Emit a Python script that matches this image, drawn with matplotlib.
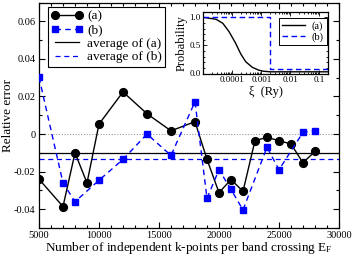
import matplotlib
matplotlib.use("Agg")
import matplotlib.pyplot as plt
from matplotlib.ticker import MultipleLocator, FixedLocator, FuncFormatter, LogLocator, NullFormatter

plt.rcParams['font.family'] = ['Liberation Serif', 'DejaVu Serif']
plt.rcParams['mathtext.fontset'] = 'custom'
plt.rcParams['mathtext.rm'] = 'Liberation Serif'
plt.rcParams['mathtext.it'] = 'Liberation Serif:italic'

# main data
x_a = [5000, 7000, 8000, 9000, 10000, 12000, 14000, 16000, 18000, 19000, 20000,
       21000, 22000, 23000, 24000, 25000, 26000, 27000, 28000]
y_a = [-0.024, -0.0386, -0.010, -0.026, 0.0053, 0.0224, 0.0108, 0.0017, 0.0066,
       -0.0135, -0.0312, -0.0242, -0.0305, -0.0035, -0.0018, -0.0035, -0.0053,
       -0.0153, -0.0092]
x_b = [5000, 7000, 8000, 10000, 12000, 14000, 16000, 18000, 19000, 20000, 21000,
       22000, 24000, 25000, 27000, 28000]
y_b = [0.0302, -0.026, -0.036, -0.0246, -0.0135, 0.0, -0.0114, 0.0172, -0.0342,
       -0.019, -0.0295, -0.0404, -0.007, -0.019, 0.0009, 0.0017]
avg_a = -0.0100
avg_b = -0.0132

# inset data
xi_a = [1e-5, 2.75e-5, 4.7e-5, 7.7e-5, 1.3e-4, 1.95e-4, 2.9e-4, 4.9e-4, 8.1e-4, 1.2e-3, 2.0e-3, 0.2]
p_a = [1.0, 0.965, 0.894, 0.746, 0.54, 0.35, 0.21, 0.11, 0.06, 0.04, 0.03, 0.03]
xi_b = [1e-5, 2.05e-3, 2.05e-3, 0.2]
p_b = [1.0, 1.0, 0.08, 0.08]

W, H = 353, 259
fig = plt.figure(figsize=(W / 100, H / 100), dpi=100)
ax = fig.add_axes([39 / W, (H - 228) / H, 300 / W, 225.5 / H])

blue = '#0000ff'
ax.axhline(0, color='#999999', lw=0.8, ls=(0, (1, 1.5)), zorder=1)
ax.plot(x_a, y_a, color='black', lw=1.0, marker='o', ms=5.6, mfc='black', mec='black',
        label='(a)', zorder=3)
ax.plot(x_b, y_b, color=blue, lw=1.0, ls=(0, (4, 3)), marker='s', ms=4.6, mfc=blue,
        mec=blue, label='(b)', zorder=3)
ax.axhline(avg_a, color='black', lw=0.9, label='average of (a)', zorder=2)
ax.axhline(avg_b, color=blue, lw=0.9, ls=(0, (4, 3)), label='average of (b)', zorder=2)

ax.set_xlim(5000, 30000)
ax.set_ylim(-0.05, 0.07)
ax.xaxis.set_major_locator(MultipleLocator(5000))
ax.xaxis.set_minor_locator(MultipleLocator(1000))
ax.yaxis.set_major_locator(FixedLocator([-0.04, -0.02, 0, 0.02, 0.04, 0.06]))
ax.yaxis.set_minor_locator(MultipleLocator(0.01))
ax.yaxis.set_major_formatter(FuncFormatter(lambda v, p: '0' if abs(v) < 1e-9 else f'{v:.2f}'))
ax.tick_params(which='both', direction='in', top=True, right=True, labelsize=7.5, width=0.8, pad=2.5)
ax.tick_params(which='major', length=4)
ax.tick_params(which='minor', length=2)
for s in ax.spines.values():
    s.set_linewidth(0.9)
ax.set_xlabel('Number of independent k-points per band crossing E$_\\mathrm{F}$', fontsize=9.5, labelpad=0)
ax.set_ylabel('Relative error', fontsize=9.5, labelpad=0)

leg = ax.legend(loc='upper left', bbox_to_anchor=(0.03, 0.979), borderaxespad=0, fontsize=9.5,
                numpoints=2, handlelength=2.4, handletextpad=0.3, labelspacing=0.1, borderpad=0.25,
                fancybox=False, edgecolor='black', framealpha=1)
leg.get_frame().set_linewidth(0.8)

# inset
ins = fig.add_axes([203.3 / W, (H - 73.5) / H, 124.7 / W, 61.8 / H])
ins.plot(xi_a, p_a, color='black', lw=1.0, label='(a)')
ins.plot(xi_b, p_b, color=blue, lw=1.0, ls=(0, (4, 2.5)), label='(b)')
ins.set_xscale('log')
ins.set_xlim(1e-5, 0.2)
ins.set_ylim(0, 1.1)
ins.xaxis.set_major_locator(FixedLocator([1e-4, 1e-3, 1e-2, 1e-1]))
ins.xaxis.set_major_formatter(FuncFormatter(lambda v, p: {1e-4: '0.0001', 1e-3: '0.001', 1e-2: '0.01', 1e-1: '0.1'}.get(v, '')))
ins.xaxis.set_minor_locator(LogLocator(base=10, subs=range(2, 10), numticks=20))
ins.xaxis.set_minor_formatter(NullFormatter())
ins.yaxis.set_major_locator(FixedLocator([0, 0.5, 1.0]))
ins.yaxis.set_major_formatter(FuncFormatter(lambda v, p: f'{v:.1f}'))
ins.yaxis.set_minor_locator(MultipleLocator(0.1))
ins.tick_params(which='both', direction='in', top=True, right=True, labelsize=6.5, width=0.6, pad=2)
ins.tick_params(which='major', length=3)
ins.tick_params(which='minor', length=1.5)
for s in ins.spines.values():
    s.set_linewidth(0.9)
ins.set_xlabel('\u03be  (Ry)', fontsize=9, labelpad=1)
ins.set_ylabel('Probability', fontsize=9, labelpad=1)
l2 = ins.legend(loc='upper right', bbox_to_anchor=(0.99, 0.9), borderaxespad=0, fontsize=7.5,
                handlelength=2.2, handletextpad=0.6, labelspacing=0.2, borderpad=0.3,
                fancybox=False, edgecolor='black', framealpha=1)
l2.get_frame().set_linewidth(0.7)

fig.savefig('out.png', dpi=100)
